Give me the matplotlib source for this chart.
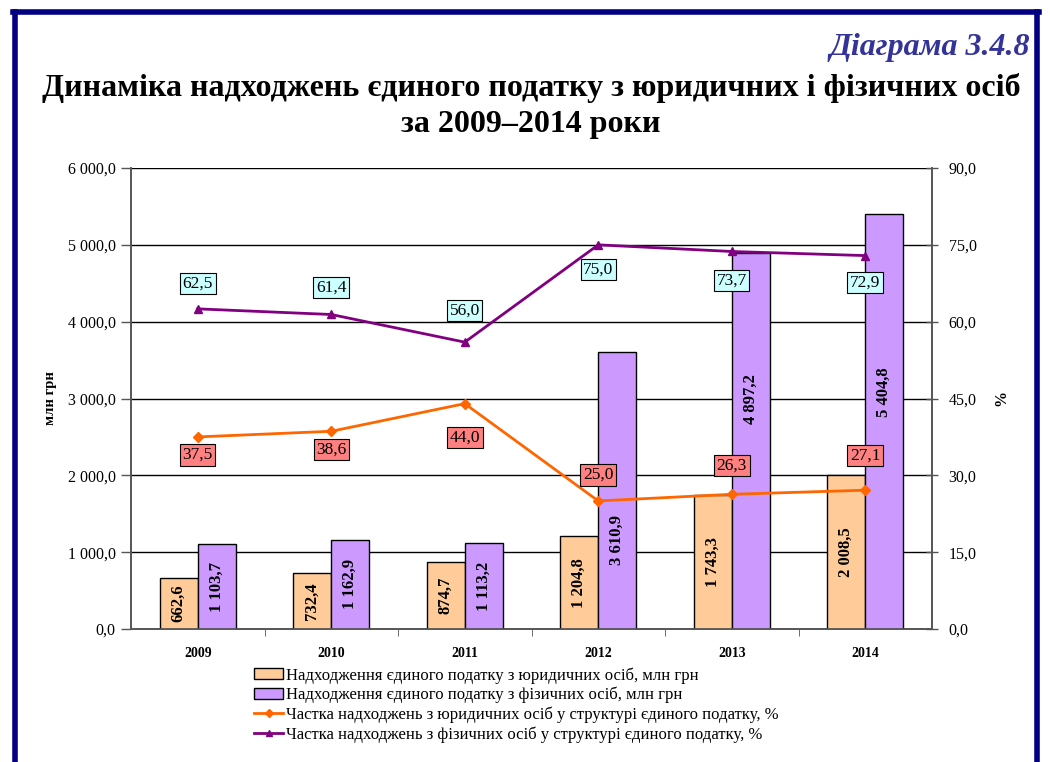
import matplotlib.pyplot as plt
from matplotlib.lines import Line2D
from matplotlib.patches import Patch
from matplotlib.ticker import FixedLocator, FuncFormatter

plt.rcParams['font.family'] = ['Liberation Serif', 'DejaVu Serif']

years = ['2009', '2010', '2011', '2012', '2013', '2014']
legal_mln = [662.6, 732.4, 874.7, 1204.8, 1743.3, 2008.5]
phys_mln = [1103.7, 1162.9, 1113.2, 3610.9, 4897.2, 5404.8]
legal_pct = [37.5, 38.6, 44.0, 25.0, 26.3, 27.1]
phys_pct = [62.5, 61.4, 56.0, 75.0, 73.7, 72.9]

# where the in-bar labels sit, as a share of the bar height (tall bars are shifted to clear the lines)
phys_label_frac = [0.5, 0.5, 0.5, 0.32, 0.61, 0.57]
# label box offsets from the points, in pixels (positive = above)
legal_off = [-18, -18, -34, 26, 29, 35]
phys_off = [25, 27, 32, -25, -29, -27]

c_legal = '#FFCC99'
c_phys = '#CC99FF'
c_legal_line = '#FF6600'
c_phys_line = '#800080'


def fmt(v, _=None):
    s = f'{v:,.1f}'.replace(',', ' ').replace('.', ',')
    return s


fig = plt.figure(figsize=(10.5, 7.62), dpi=100)
ax = fig.add_axes([131 / 1050, 1 - 629 / 762, 801 / 1050, 461 / 762])
ax2 = ax.twinx()

x = list(range(len(years)))
w = 0.285
xl = [i - w / 2 for i in x]
xp = [i + w / 2 for i in x]
ax.bar(xl, legal_mln, w, color=c_legal, edgecolor='black', linewidth=1, zorder=3)
ax.bar(xp, phys_mln, w, color=c_phys, edgecolor='black', linewidth=1, zorder=3)

for i in x:
    ax.text(xl[i], legal_mln[i] / 2, fmt(legal_mln[i]), rotation=90, ha='center', va='center',
            fontsize=12, fontweight='bold', zorder=4)
    ax.text(xp[i], phys_mln[i] * phys_label_frac[i], fmt(phys_mln[i]), rotation=90, ha='center',
            va='center', fontsize=12, fontweight='bold', zorder=4)

ax.set_xlim(-0.5, 5.5)
ax.set_ylim(0, 6000)
ax.yaxis.set_major_locator(FixedLocator([0, 1000, 2000, 3000, 4000, 5000, 6000]))
ax.yaxis.set_major_formatter(FuncFormatter(fmt))
ax.grid(axis='y', color='black', linewidth=1, zorder=0)
ax.set_axisbelow(True)
ax.set_xticks(x)
ax.set_xticklabels(years, fontweight='bold', fontsize=10)
ax.tick_params(axis='x', length=0, pad=13)
ax.set_xticks([i + 0.5 for i in x[:-1]], minor=True)
ax.tick_params(axis='x', which='minor', length=5, direction='out', color='#555555')
ax.tick_params(axis='y', labelsize=11.5, length=7, pad=4, direction='out', color='#555555', width=1)
ax.set_ylabel('млн грн', fontweight='bold', fontsize=10.5, labelpad=8)

for sp in ['left', 'right', 'bottom']:
    ax.spines[sp].set_color('#555555')
    ax.spines[sp].set_linewidth(1.2)
    ax2.spines[sp].set_color('#555555')
    ax2.spines[sp].set_linewidth(1.2)
ax.spines['top'].set_visible(False)
ax2.spines['top'].set_visible(False)

ax2.plot(x, legal_pct, color=c_legal_line, linewidth=2, marker='D', markersize=5, zorder=5)
ax2.plot(x, phys_pct, color=c_phys_line, linewidth=2, marker='^', markersize=6, zorder=5)
ax2.set_ylim(0, 90)
ax2.yaxis.set_major_locator(FixedLocator([0, 15, 30, 45, 60, 75, 90]))
ax2.yaxis.set_major_formatter(FuncFormatter(fmt))
ax2.tick_params(axis='y', labelsize=11.5, length=8, pad=8, direction='inout', color='#555555', width=1)
ax2.set_ylabel('%', fontweight='bold', fontsize=11.5, labelpad=12)

for i in x:
    ax2.annotate(fmt(legal_pct[i]), (x[i], legal_pct[i]), xytext=(0, legal_off[i] * 0.72),
                 textcoords='offset points', ha='center', va='center', fontsize=12.5,
                 bbox=dict(boxstyle='square,pad=0.15', fc='#FF8080', ec='black', lw=0.8), zorder=6)
    ax2.annotate(fmt(phys_pct[i]), (x[i], phys_pct[i]), xytext=(0, phys_off[i] * 0.72),
                 textcoords='offset points', ha='center', va='center', fontsize=12.5,
                 bbox=dict(boxstyle='square,pad=0.15', fc='#CCFFFF', ec='black', lw=0.8), zorder=6)

fig.text(1030 / 1050, 1 - 47 / 762, 'Діаграма 3.4.8', ha='right', va='center', fontsize=23,
         fontweight='bold', style='italic', color='#333399')
fig.text(531 / 1050, 1 - 106 / 762,
         'Динаміка надходжень єдиного податку з юридичних і фізичних осіб\nза 2009–2014 роки',
         ha='center', va='center', fontsize=23, fontweight='bold', linespacing=1.3)

handles = [
    Patch(facecolor=c_legal, edgecolor='black', linewidth=1),
    Patch(facecolor=c_phys, edgecolor='black', linewidth=1),
    Line2D([], [], color=c_legal_line, linewidth=2, marker='D', markersize=4),
    Line2D([], [], color=c_phys_line, linewidth=2, marker='^', markersize=5),
]
labels = [
    'Надходження єдиного податку з юридичних осіб, млн грн',
    'Надходження єдиного податку з фізичних осіб, млн грн',
    'Частка надходжень з юридичних осіб у структурі єдиного податку, %',
    'Частка надходжень з фізичних осіб у структурі єдиного податку, %',
]
fig.legend(handles, labels, loc='upper left', bbox_to_anchor=(254 / 1050, 1 - 667 / 762),
           frameon=False, fontsize=12, handlelength=1.75, handleheight=0.65, handletextpad=0.2,
           labelspacing=0.2, borderpad=0, borderaxespad=0)

# navy page frame
for xs, ys in [([13 / 1050, 1039 / 1050], [1 - 12 / 762, 1 - 12 / 762]),
               ([15 / 1050, 15 / 1050], [0, 1 - 12 / 762]),
               ([1037 / 1050, 1037 / 1050], [0, 1 - 12 / 762])]:
    fig.add_artist(Line2D(xs, ys, color='#000080', linewidth=4, transform=fig.transFigure))

fig.savefig('out.png', dpi=100)
